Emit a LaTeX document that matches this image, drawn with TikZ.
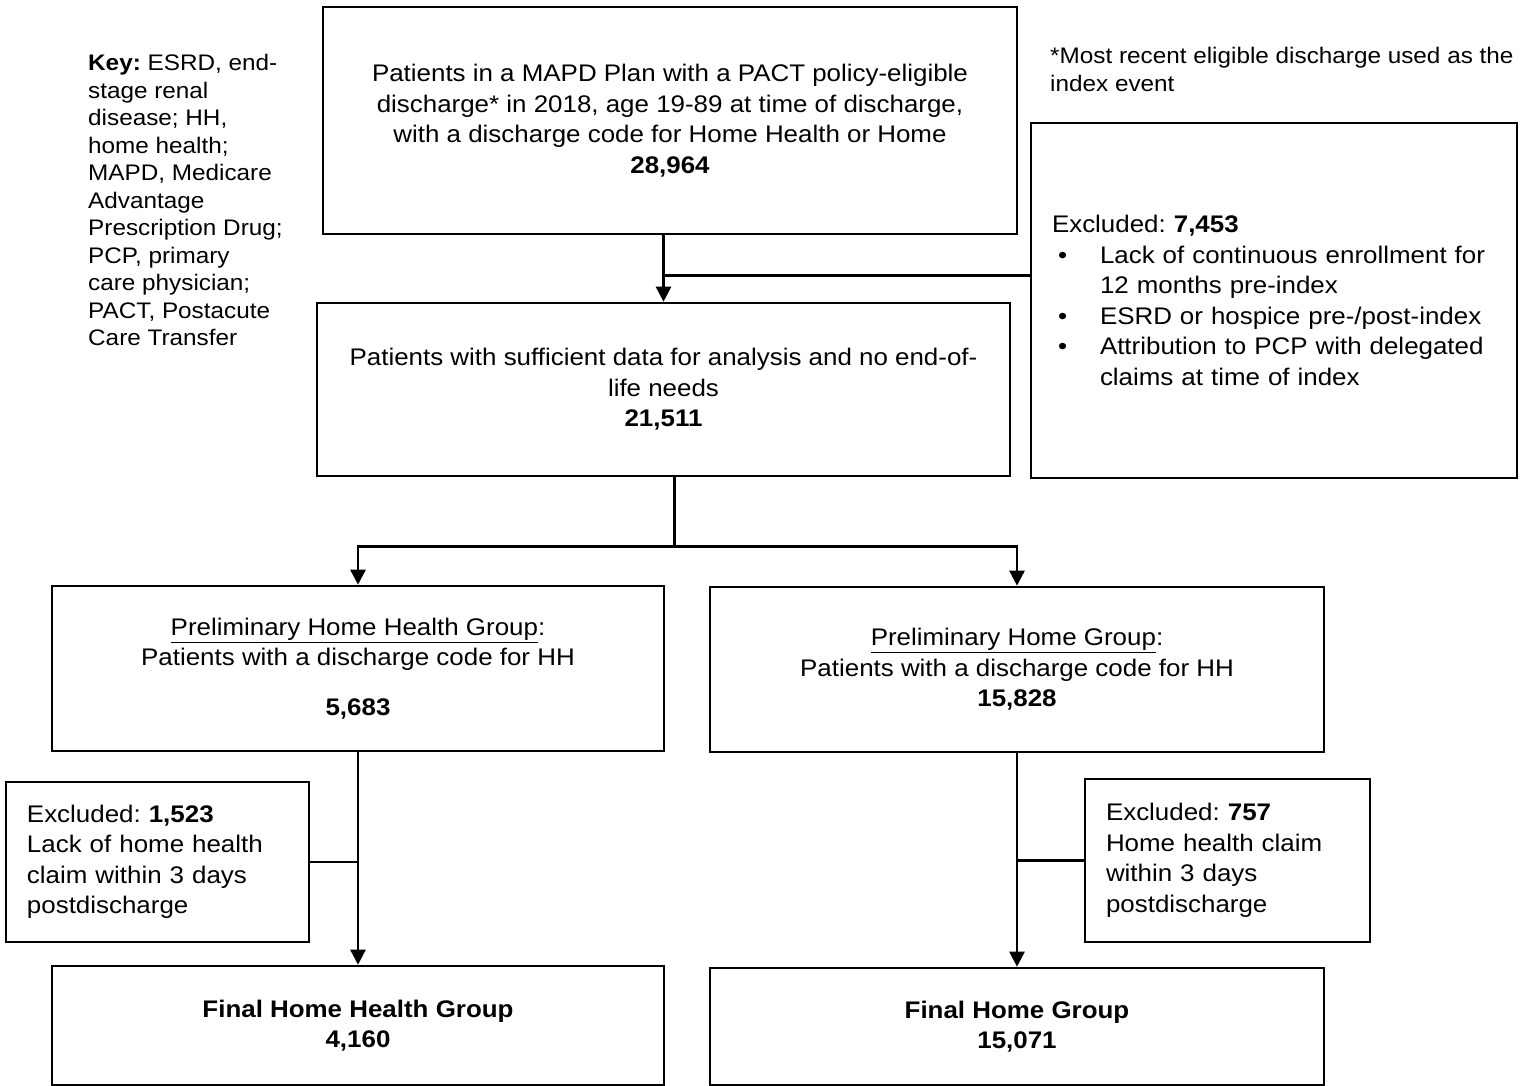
\documentclass[tikz,border=0pt]{standalone}
\usepackage{fontspec}
\setmainfont{Liberation Sans}[FakeStretch=1.08]
\usetikzlibrary{arrows.meta}
\frenchspacing
\newcommand{\boxfont}{\fontsize{24}{30.5}\selectfont}
\newcommand{\keyfont}{\fontsize{22.5}{27.5}\selectfont}
\newcommand{\bul}[1]{\hspace*{6pt}\makebox[42pt][l]{\textbullet}#1}
\newcommand{\cont}[1]{\hspace*{48pt}#1}
\tikzset{
	box/.style={draw, line width=2.6pt, inner sep=0pt, align=center, font=\boxfont},
	exbox/.style={draw, line width=2.6pt, inner xsep=21pt, inner ysep=0pt, align=left, font=\boxfont},
	link/.style={line width=2.6pt},
	arr/.style={line width=2.6pt, -{Triangle[length=15pt,width=15pt]}},
	plain/.style={anchor=north west, inner sep=0pt, align=left, font=\keyfont}
}

\begin{document}
\begin{tikzpicture}[x=1pt, y=-1pt]
			\useasboundingbox (0,0) rectangle (1531,1086);
			%%%%% START %%%%%
			\node[plain] (key) at (88,54) {\textbf{Key:} ESRD, end-\\stage renal\\disease; HH,\\home health;\\MAPD, Medicare\\Advantage\\Prescription Drug;\\PCP, primary\\care physician;\\PACT, Postacute\\Care Transfer};
			\node[plain] (note) at (1050,47) {*Most recent eligible discharge used as the\\index event};
			
			\node[box, minimum width=694pt, minimum height=227pt] (enroll) at (670,120.5) {Patients in a MAPD Plan with a PACT policy-eligible\\discharge* in 2018, age 19-89 at time of discharge,\\with a discharge code for Home Health or Home\\\textbf{28,964}};
			\node[exbox, text width=444pt, minimum height=355pt] (excl1) at (1274,300.5) {Excluded: \textbf{7,453}\\\bul{Lack of continuous enrollment for}\\\cont{12 months pre-index}\\\bul{ESRD or hospice pre-/post-index}\\\bul{Attribution to PCP with delegated}\\\cont{claims at time of index}};
			\node[box, minimum width=693pt, minimum height=173pt] (suff) at (663.5,389.5) {Patients with sufficient data for analysis and no end-of-\\life needs\\\textbf{21,511}};
			
			\node[box, minimum width=612pt, minimum height=165pt] (hhpre) at (358,668.5) {\underline{Preliminary Home Health Group}:\\Patients with a discharge code for HH\\[19pt]\textbf{5,683}};
			\node[box, minimum width=614pt, minimum height=165pt] (homepre) at (1017,669.5) {\underline{Preliminary Home Group}:\\Patients with a discharge code for HH\\\textbf{15,828}};
			
			\node[exbox, text width=261pt, minimum height=160pt] (exhh) at (157.5,862) {Excluded: \textbf{1,523}\\Lack of home health\\claim within 3 days\\postdischarge};
			\node[exbox, text width=243pt, minimum height=163pt] (exhome) at (1227.5,860.5) {Excluded: \textbf{757}\\Home health claim\\within 3 days\\postdischarge};
			
			\node[box, minimum width=612pt, minimum height=119pt] (hhfin) at (358,1025.5) {\textbf{Final Home Health Group}\\\textbf{4,160}};
			\node[box, minimum width=614pt, minimum height=117pt] (homefin) at (1017,1026.5) {\textbf{Final Home Group}\\\textbf{15,071}};
			
			% connectors
			\draw[arr] (enroll.south -| suff.north) -- (suff.north);
			\path (suff.north) ++(0,-26) coordinate (j1);
			\draw[link] (j1) -- (j1 -| excl1.west);
			
			\draw[link] ([xshift=11pt]suff.south) -- ++(0,69) coordinate (split);
			\draw[arr] (split) -| (hhpre.north);
			\draw[arr] (split) -| (homepre.north);
			
			\draw[arr] (hhpre.south) -- (hhfin.north);
			\draw[link] (exhh.east) -- (exhh.east -| hhpre.south);
			\draw[arr] (homepre.south) -- (homefin.north);
			\draw[link] (exhome.west) -- (exhome.west -| homepre.south);
			%%%%% END %%%%%
\end{tikzpicture}
\end{document}
